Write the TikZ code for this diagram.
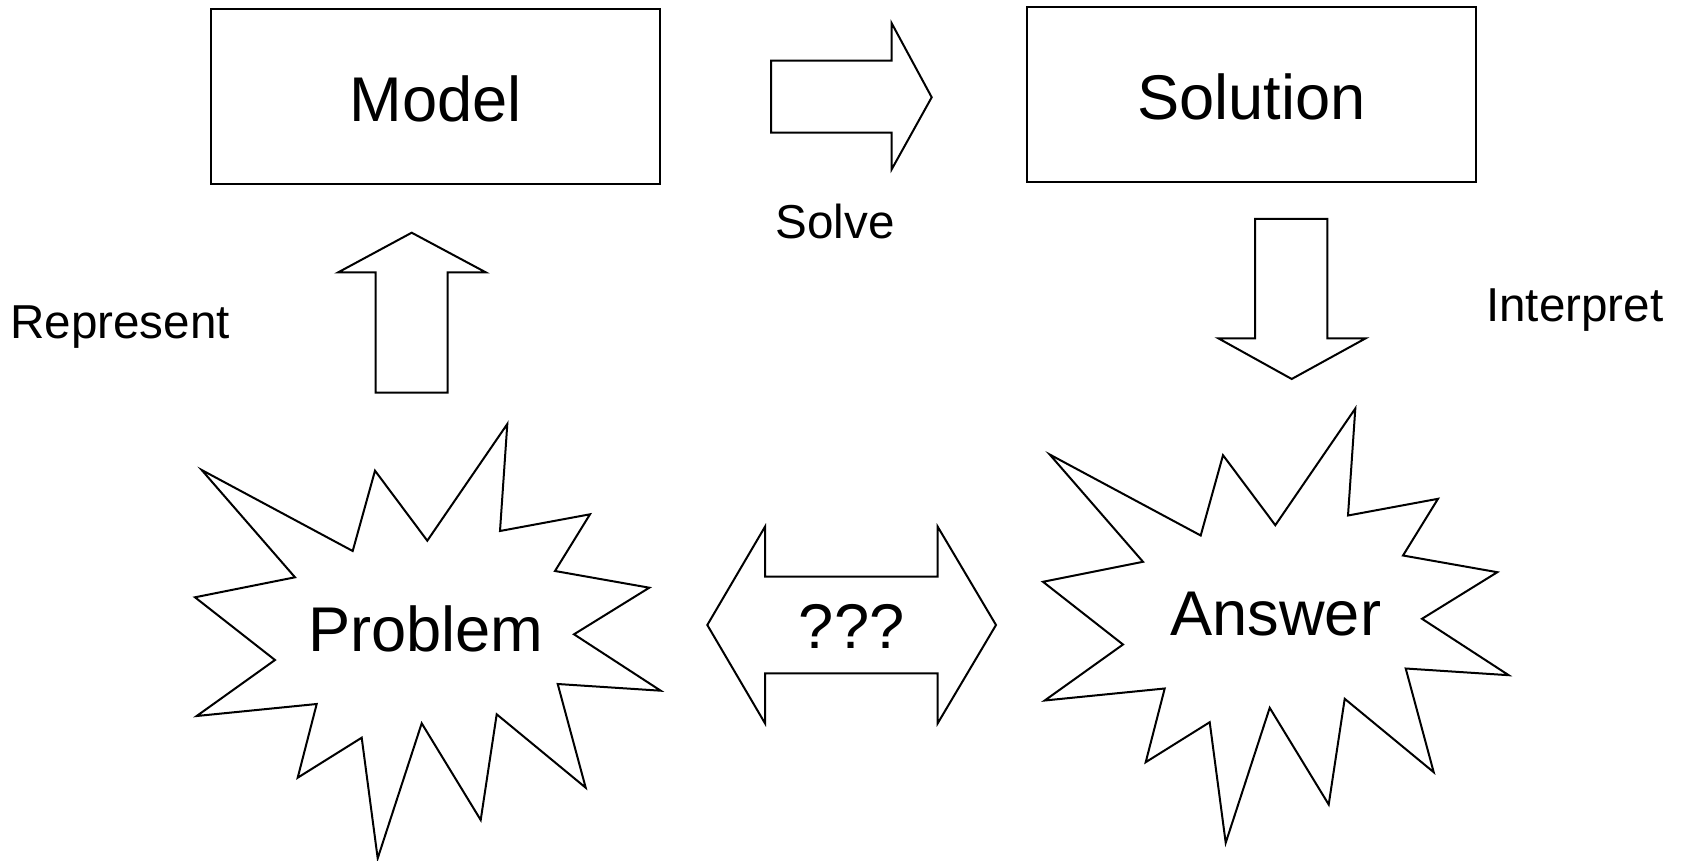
\documentclass[tikz,border=0pt]{standalone}
\usepackage{fontspec}
\setmainfont{Liberation Sans}
\begin{document}
\begin{tikzpicture}[x=0.5pt,y=-0.5pt,
  bigtxt/.style={font=\fontsize{31.6}{36}\selectfont, inner sep=0pt},
  smalltxt/.style={font=\fontsize{23.8}{28}\selectfont, inner sep=0pt},
  outline/.style={draw=black, line width=1pt, line join=miter},
  boxnode/.style={outline, minimum width=224.5pt, minimum height=87.7pt, inner sep=0pt, bigtxt, text height=25pt, text depth=0pt},
  burst/.pic={\draw[outline] (201.7,470) -- (352.7,551) -- (375,470.7) -- (427.3,540.7) -- (507.3,424) -- (500,531) -- (590,514.3) -- (555,571) -- (649.3,587.7) -- (574,634.3) -- (660.7,690.7) -- (557.7,684) -- (585.7,787.7) -- (496.7,714.3) -- (480.7,820) -- (421.7,723.3) -- (377.7,858.3) -- (361.7,737.7) -- (297.7,777.7) -- (316.7,704) -- (196.7,716) -- (275,660) -- (195,597.3) -- (295,577.3) -- cycle;}
]
\useasboundingbox (0,0) rectangle (1686,861);
\fill[white] (0,0) rectangle (1686,861);

% boxes
\node[boxnode] (model) at (435.5,96.7) {Model};
\node[boxnode] (solution) at (1251.7,94.7) {Solution};

% block arrows
\draw[outline] (771,60.7) -- (891.7,60.7) -- (891.7,23.3) -- (931.7,97.3) -- (891.7,169.3) -- (891.7,132.7) -- (771,132.7) -- cycle;
\draw[outline] (375.7,392.7) -- (375.7,272.3) -- (338.3,272.3) -- (411.7,232.7) -- (485.7,272.3) -- (447.7,272.3) -- (447.7,392.7) -- cycle;
\draw[outline] (1255,219) -- (1327.3,219) -- (1327.3,338.3) -- (1365.7,338.3) -- (1291.7,379) -- (1218.3,338.3) -- (1255,338.3) -- cycle;
\draw[outline] (707.3,625) -- (765,526.7) -- (765,576.7) -- (937.7,576.7) -- (937.7,526.7) -- (996,625) -- (937.7,723.3) -- (937.7,673.3) -- (765,673.3) -- (765,723.3) -- cycle;

% starbursts
\pic (pburst) at (0,0) {burst};
\pic (aburst) at (848,-15.5) {burst};

% labels
\node[smalltxt, anchor=base] (solve) at (835,238.3) {Solve};
\node[smalltxt, anchor=base] (represent) at (120,338.3) {Represent};
\node[smalltxt, anchor=base] (interpret) at (1574.7,321.7) {Interpret};
\node[bigtxt, anchor=base] (problem) at (426,651.7) {Problem};
\node[bigtxt, anchor=base] (answer) at (1275.8,635) {Answer};
\node[bigtxt, anchor=base] (qqq) at (851.7,648.3) {???};
\end{tikzpicture}
\end{document}
